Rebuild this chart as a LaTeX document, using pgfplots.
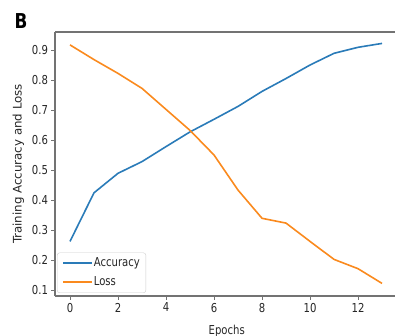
\documentclass[border=0pt]{standalone}
\usepackage{pgfplots}
\pgfplotsset{compat=1.18}
\usepackage{fontspec}
\setmainfont{DejaVu Sans}[FakeStretch=0.82]
\newfontfamily\ylfont{DejaVu Sans}
\definecolor{tabblue}{HTML}{2A7BB8}
\definecolor{taborange}{HTML}{FA8A1E}
\definecolor{spine}{gray}{0.45}
\begin{document}
\begin{tikzpicture}
\begin{axis}[
  scale only axis, width=340bp, height=264bp,
  xmin=-0.625, xmax=13.54, ymin=0.08, ymax=0.96,
  axis x line*=bottom, axis y line*=left,
  axis line style={spine, line width=1.2bp},
  every tick/.style={spine, line width=0.9bp},
  tick align=outside, major tick length=3.5bp,
  xtick={0,2,...,12}, ytick={0.1,0.2,...,0.9},
  /pgf/number format/assume math mode=true,
  yticklabel style={/pgf/number format/fixed, /pgf/number format/fixed zerofill, /pgf/number format/precision=1},
  tick label style={font=\fontsize{12.3bp}{14bp}\selectfont, text=black!85},
  xlabel={Epochs}, ylabel={\ylfont Training Accuracy and Loss},
  every axis x label/.style={at={(axis description cs:0.505,-0.1326)}, anchor=center, font=\fontsize{12.3bp}{14bp}\selectfont, text=black!85},
  every axis y label/.style={at={(axis description cs:-0.1074,0.5)}, anchor=center, rotate=90, font=\fontsize{11.8bp}{14bp}\selectfont, text=black!85},
  legend cell align=left,
  legend image code/.code={\draw[#1] (0bp,0bp) -- (22bp,0bp); \path (0bp,0bp) -- (29bp,0bp);},
  legend style={at={(axis description cs:0.0059,0.0114)}, anchor=south west,
    draw=black!20, rounded corners=2.5bp, inner xsep=5bp, inner ysep=4bp,
    font=\fontsize{12.3bp}{14bp}\selectfont, text=black!85,
    nodes={inner sep=1bp, text height=8.6bp, text depth=2.4bp}, row sep=6bp},
  extra description/.code={\draw[spine, line width=1.2bp] (axis description cs:0,1) -- (axis description cs:1,1);},
]
\addplot[tabblue, line width=1.6bp] coordinates {
 (0,0.262) (1,0.424) (2,0.489) (3,0.528) (4,0.578) (5,0.627) (6,0.669)
 (7,0.712) (8,0.762) (9,0.805) (10,0.850) (11,0.889) (12,0.909) (13,0.922)};
\addlegendentry{Accuracy}
\addplot[taborange, line width=1.6bp] coordinates {
 (0,0.917) (1,0.868) (2,0.822) (3,0.772) (4,0.702) (5,0.632) (6,0.550)
 (7,0.433) (8,0.339) (9,0.323) (10,0.262) (11,0.202) (12,0.171) (13,0.122)};
\addlegendentry{Loss}
\end{axis}
\node[font=\bfseries\fontsize{20.5bp}{22bp}\selectfont, anchor=center] at (-34bp,275bp) {B};
\pgfresetboundingbox
\path[use as bounding box] (-55bp,-40bp) rectangle (340bp,296bp);
\end{tikzpicture}
\end{document}
